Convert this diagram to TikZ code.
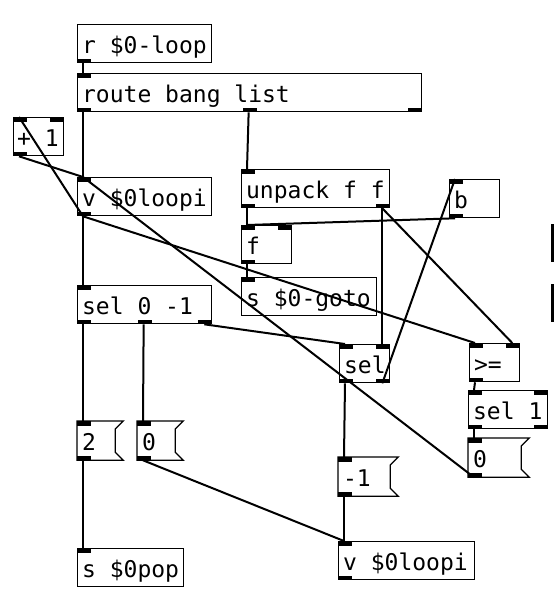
\documentclass[tikz,border=0pt]{standalone}
\usepackage{fontspec}
\usetikzlibrary{calc}
\newfontfamily\pdfont{DejaVu Sans Mono}
\newcommand\pdspace{\spaceskip 13.85pt\xspaceskip 13.85pt\relax}

\begin{document}
\begin{tikzpicture}[x=1pt,y=-1pt]

\tikzstyle{box}=[draw, line width=1.3pt, anchor=north west, inner xsep=4.5pt, inner ysep=0pt, text height=29pt, text depth=9pt, font=\pdfont\fontsize{23}{27}\selectfont, execute at begin node=\pdspace]
\tikzstyle{msg}=[box, draw=none]
\tikzstyle{flag}=[draw, line width=1.3pt]
\tikzstyle{line}=[draw, line width=2pt]

\fill[white] (0,0) rectangle (554,590);
\useasboundingbox (0,0) rectangle (554,590);

\node[box, text width=125pt] (r0loop) at (77,24) {r \$0-loop};
\node[box, text width=335pt] (route) at (77,73) {route bang list};
\node[box, text width=43pt, inner xsep=3.5pt] (plus) at (13,117) {+ 1};
\node[box, text width=125pt] (vloop) at (77,177) {v \$0loopi};
\node[box, text width=139pt] (unpack) at (241,169) {unpack f f};
\node[box, text width=41pt] (bang) at (449,179) {b};
\node[box, text width=41pt] (f) at (241,225) {f};
\node[box, text width=126pt] (sgoto) at (241,277) {s \$0-goto};
\node[box, text width=125pt] (sel0) at (77,285) {sel 0 -1};
\node[box, text width=41pt] (sel) at (339,344) {sel};
\node[box, text width=41pt] (ge) at (469,343) {>=};
\node[box, text width=70pt] (sel1) at (468,390) {sel 1};
\node[msg, text width=51pt] (msgzero) at (468,438) {0};
\node[msg, text width=36pt] (msgtwo) at (77,421) {2};
\node[msg, text width=36pt] (msgnull) at (137,421) {0};
\node[box, text width=97pt] (spop) at (77,548) {s \$0pop};
\node[msg, text width=50pt] (msgminus) at (338,457) {-1};
\node[box, text width=127pt] (vloopb) at (338,541) {v \$0loopi};

% message boxes
\foreach \m in {msgzero,msgtwo,msgnull,msgminus}
  \path[flag] (\m.north west) -- (\m.north east) -- ++(-8,8) -- ($(\m.south east)+(-8,-8)$) -- (\m.south east) -- (\m.south west) -- cycle;

% inlets
\foreach \n/\f/\k in {route/0/0, plus/0/0, plus/1/1, vloop/0/0, unpack/0/0, bang/0/0, f/0/0, f/1/1, sgoto/0/0, sel0/0/0, sel/0/0, sel/1/1, ge/0/0, ge/1/1, sel1/0/0, sel1/1/1, msgzero/0/0, msgtwo/0/0, msgnull/0/0, spop/0/0, msgminus/0/0, vloopb/0/0}{
  \coordinate (\n-i\k) at ($(\n.north west)!\f!([xshift=-14pt]\n.north east)+(6,0)$);
  \fill ([xshift=-6pt]\n-i\k) rectangle ++(14,4.5);
}

% outlets
\foreach \n/\f/\k in {r0loop/0/0, route/0/0, route/0.5/1, route/1/2, plus/0/0, vloop/0/0, unpack/0/0, unpack/1/1, bang/0/0, f/0/0, sel0/0/0, sel0/0.5/1, sel0/1/2, sel/0/0, sel/1/1, ge/0/0, sel1/0/0, sel1/1/1, msgzero/0/0, msgtwo/0/0, msgnull/0/0, msgminus/0/0, vloopb/0/0}{
  \coordinate (\n-o\k) at ($(\n.south west)!\f!([xshift=-14pt]\n.south east)+(6,0)$);
  \fill ([xshift=-6pt]\n-o\k) rectangle ++(14,-4.5);
}

% boxes cut off at the right edge
\draw[line width=2.5pt] (552.5,224) -- (552.5,262);
\draw[line width=2.5pt] (552.5,284) -- (552.5,322);

\path[line] (r0loop-o0) -- (route-i0);
\path[line] (route-o0) -- (vloop-i0);
\path[line] (route-o1) -- (unpack-i0);
\path[line] (plus-o0) -- (vloop-i0);
\path[line] (vloop-o0) -- (plus-i0);
\path[line] (vloop-o0) -- (sel0-i0);
\path[line] (vloop-o0) -- (ge-i0);
\path[line] (msgzero-o0) -- (vloop-i0);
\path[line] (unpack-o0) -- (f-i0);
\path[line] (unpack-o1) -- (sel-i1);
\path[line] (unpack-o1) -- (ge-i1);
\path[line] (bang-o0) -- (f-i0);
\path[line] (f-o0) -- (sgoto-i0);
\path[line] (sel0-o0) -- (msgtwo-i0);
\path[line] (sel0-o1) -- (msgnull-i0);
\path[line] (sel0-o2) -- (sel-i0);
\path[line] (sel-o0) -- (msgminus-i0);
\path[line] (sel-o1) -- (bang-i0);
\path[line] (ge-o0) -- (sel1-i0);
\path[line] (sel1-o0) -- (msgzero-i0);
\path[line] (msgtwo-o0) -- (spop-i0);
\path[line] (msgnull-o0) -- (vloopb-i0);
\path[line] (msgminus-o0) -- (vloopb-i0);

\end{tikzpicture}
\end{document}
